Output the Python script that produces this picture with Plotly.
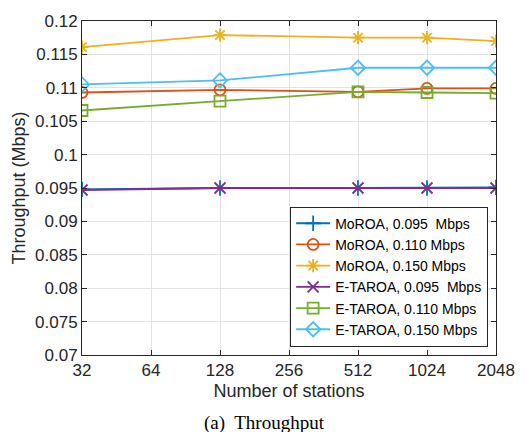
import plotly.graph_objects as go

stations = [32, 128, 512, 1024, 2048]
moroa_095 = [0.0948, 0.0950, 0.0950, 0.0950, 0.0951]
moroa_110 = [0.1093, 0.1097, 0.1094, 0.1099, 0.1099]
moroa_150 = [0.1161, 0.1179, 0.1175, 0.1175, 0.1170]
etaroa_095 = [0.0947, 0.0950, 0.0950, 0.0950, 0.0950]
etaroa_110 = [0.1066, 0.1080, 0.1094, 0.1093, 0.1092]
etaroa_150 = [0.1105, 0.1111, 0.1130, 0.1130, 0.1130]

x_ticks = [32, 64, 128, 256, 512, 1024, 2048]
x_ticklabels = ["32", "64", "128", "256", "512", "1024", "2048"]
y_ticks = [0.07, 0.075, 0.08, 0.085, 0.09, 0.095, 0.1, 0.105, 0.11, 0.115, 0.12]
y_ticklabels = ["0.07", "0.075", "0.08", "0.085", "0.09", "0.095", "0.1", "0.105", "0.11", "0.115", "0.12"]

series = [
    ("MoROA, 0.095  Mbps", moroa_095, "#0072BD", "cross-thin-open"),
    ("MoROA, 0.110 Mbps", moroa_110, "#D95319", "circle-open"),
    ("MoROA, 0.150 Mbps", moroa_150, "#EDB120", "asterisk-open"),
    ("E-TAROA, 0.095  Mbps", etaroa_095, "#7E2F8E", "x-thin-open"),
    ("E-TAROA, 0.110 Mbps", etaroa_110, "#77AC30", "square-open"),
    ("E-TAROA, 0.150 Mbps", etaroa_150, "#4DBEEE", "diamond-open"),
]

fig = go.Figure()
for name, vals, color, sym in series:
    fig.add_trace(go.Scatter(
        x=stations, y=vals, name=name, mode="lines+markers",
        line=dict(color=color, width=1.8),
        marker=dict(symbol=sym, size=11, color=color, line=dict(color=color, width=1.8)),
    ))

font_main = "Liberation Sans, Arial, sans-serif"
fig.update_layout(
    width=527, height=432,
    margin=dict(l=82, r=20, t=18, b=77),
    paper_bgcolor="white", plot_bgcolor="white",
    font=dict(family=font_main, size=17, color="#262626"),
    showlegend=True,
    legend=dict(
        x=0.981, y=0.025, xanchor="right", yanchor="bottom",
        bgcolor="white", bordercolor="#262626", borderwidth=1,
        font=dict(family=font_main, size=14, color="#000000"),
        tracegroupgap=0, itemwidth=34,
    ),
    xaxis=dict(
        type="log", range=[1.50515, 3.31133],
        tickvals=x_ticks, ticktext=x_ticklabels,
        showgrid=True, gridcolor="#E3E3E3", gridwidth=1,
        showline=True, linecolor="#262626", linewidth=1, mirror="ticks",
        ticks="inside", ticklen=5, tickcolor="#262626",
        zeroline=False,
        title=dict(text="Number of stations", font=dict(size=18), standoff=4),
        tickfont=dict(size=17),
    ),
    yaxis=dict(
        range=[0.07, 0.12],
        tickvals=y_ticks, ticktext=y_ticklabels,
        showgrid=True, gridcolor="#E3E3E3", gridwidth=1,
        showline=True, linecolor="#262626", linewidth=1, mirror="ticks",
        ticks="inside", ticklen=5, tickcolor="#262626",
        zeroline=False,
        title=dict(text="Throughput (Mbps)", font=dict(size=18), standoff=4),
        tickfont=dict(size=17),
    ),
    annotations=[dict(
        text="(a)  Throughput", xref="paper", yref="paper",
        x=0.44, y=-0.165, xanchor="center", yanchor="top", showarrow=False,
        font=dict(family="Liberation Serif, Times New Roman, serif", size=19, color="#000000"),
    )],
)

fig.write_html("out.html", config={"displayModeBar": False},
               post_script="document.body.style.margin='0';document.body.style.padding='0';")
